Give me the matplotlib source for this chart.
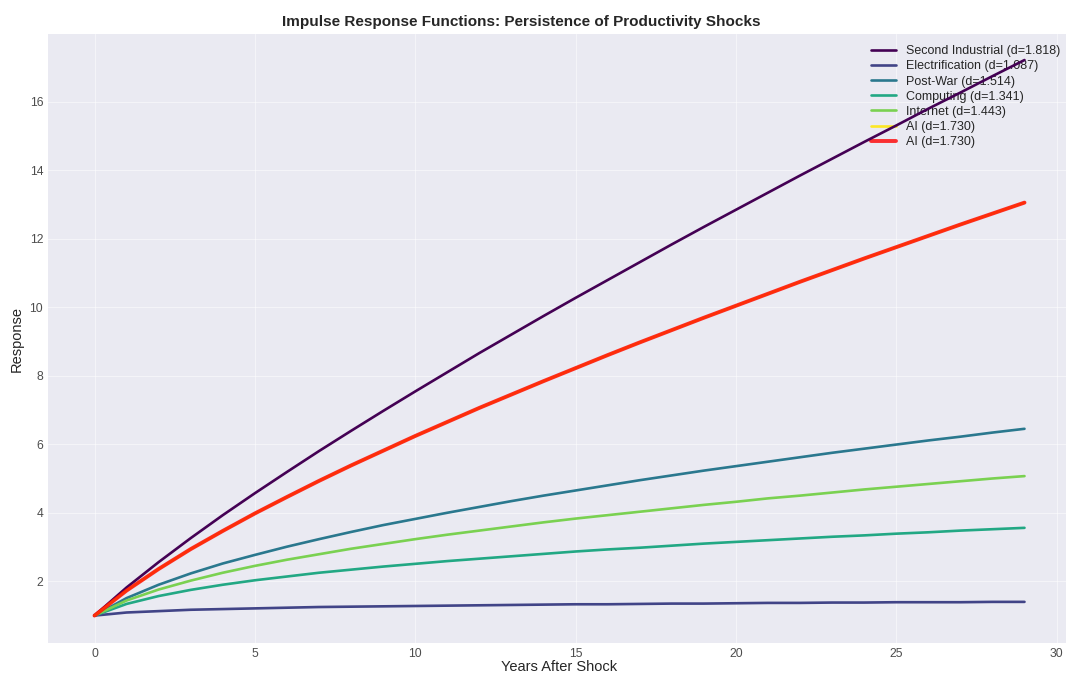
import numpy as np
import matplotlib
matplotlib.use("Agg")
import matplotlib.pyplot as plt

# years after the shock
years = list(range(30))

second_industrial = [1.00, 1.82, 2.56, 3.26, 3.93, 4.57, 5.19, 5.80, 6.39, 6.97,
                     7.54, 8.10, 8.66, 9.20, 9.74, 10.27, 10.79, 11.31, 11.83, 12.34,
                     12.84, 13.34, 13.84, 14.33, 14.82, 15.30, 15.79, 16.26, 16.74, 17.21]
electrification = [1.00, 1.09, 1.13, 1.17, 1.19, 1.21, 1.23, 1.25, 1.26, 1.27,
                   1.28, 1.29, 1.30, 1.31, 1.32, 1.33, 1.33, 1.34, 1.35, 1.35,
                   1.36, 1.37, 1.37, 1.38, 1.38, 1.39, 1.39, 1.39, 1.40, 1.40]
post_war = [1.00, 1.51, 1.90, 2.23, 2.52, 2.77, 3.01, 3.23, 3.44, 3.64,
            3.82, 4.00, 4.17, 4.34, 4.50, 4.65, 4.80, 4.95, 5.09, 5.23,
            5.36, 5.49, 5.62, 5.75, 5.87, 5.99, 6.11, 6.22, 6.34, 6.45]
computing = [1.00, 1.34, 1.57, 1.75, 1.90, 2.03, 2.14, 2.25, 2.34, 2.43,
             2.51, 2.59, 2.66, 2.73, 2.80, 2.87, 2.93, 2.98, 3.04, 3.10,
             3.15, 3.20, 3.25, 3.30, 3.34, 3.39, 3.43, 3.48, 3.52, 3.56]
internet = [1.00, 1.44, 1.76, 2.02, 2.25, 2.45, 2.63, 2.79, 2.95, 3.09,
            3.23, 3.36, 3.48, 3.60, 3.72, 3.83, 3.93, 4.03, 4.13, 4.23,
            4.32, 4.42, 4.50, 4.59, 4.68, 4.76, 4.84, 4.92, 5.00, 5.07]
ai = [1.00, 1.73, 2.36, 2.94, 3.47, 3.98, 4.46, 4.93, 5.38, 5.81,
      6.24, 6.65, 7.06, 7.45, 7.84, 8.22, 8.60, 8.97, 9.33, 9.69,
      10.04, 10.39, 10.74, 11.08, 11.42, 11.75, 12.08, 12.41, 12.73, 13.05]

labels = ['Second Industrial (d=1.818)', 'Electrification (d=1.087)',
          'Post-War (d=1.514)', 'Computing (d=1.341)',
          'Internet (d=1.443)', 'AI (d=1.730)']
series = [second_industrial, electrification, post_war, computing, internet, ai]

plt.style.use('seaborn-v0_8-darkgrid')
plt.rcParams['font.family'] = ['Liberation Sans', 'DejaVu Sans']

fig = plt.figure(figsize=(10.66, 6.75), dpi=100)
# axes run a little past the right edge (the original picture is cropped)
ax = fig.add_axes([48/1066, 1 - 643/675, 1023/1066, 609/675])

colors = plt.cm.viridis(np.linspace(0, 1, len(series)))
for vals, lab, c in zip(series, labels, colors):
    ax.plot(years, vals, color=c, linewidth=1.9, label=lab)

# AI highlighted on top
ax.plot(years, ai, color='red', linewidth=2.8, alpha=0.8, label='AI (d=1.730)')

ax.set_ylim(0.2, 17.97)
ax.grid(True, alpha=0.5)
ax.tick_params(labelsize=8.7, colors='.3')
ax.set_xlabel('Years After Shock', fontsize=10.5, labelpad=0)
ax.set_ylabel('Response', fontsize=10.5)
fig.text(521/1066, 1 - 22/675, 'Impulse Response Functions: Persistence of Productivity Shocks',
         ha='center', va='center', fontsize=11, fontweight='bold', color='.15')

leg = ax.legend(loc='upper right', fontsize=9, frameon=False, labelspacing=0.25)
leg.set_zorder(1)

plt.savefig('out.png', dpi=100)
